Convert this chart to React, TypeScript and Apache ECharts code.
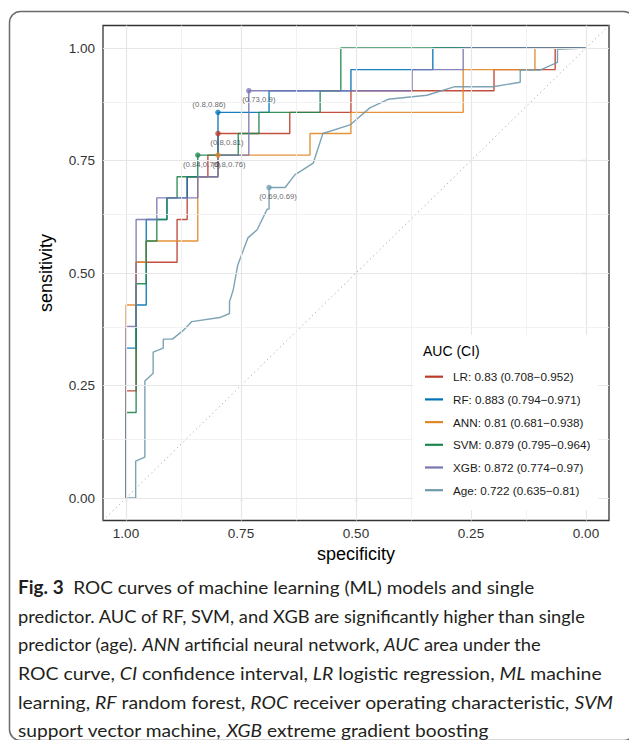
import React, { useEffect, useRef } from "react";
import * as echarts from "echarts";

// ---------- data ----------
const models = ["LR", "RF", "ANN", "SVM", "XGB", "Age"];
const aucValues = ["0.83", "0.883", "0.81", "0.879", "0.872", "0.722"];
const ciLow = ["0.708", "0.794", "0.681", "0.795", "0.774", "0.635"];
const ciHigh = ["0.952", "0.971", "0.938", "0.964", "0.97", "0.81"];
const colors = ["#BC3C29", "#0072B5", "#E18727", "#20854E", "#7876B1", "#6F99AD"];

const lrSpec = [1, 1, 0.978, 0.978, 0.889, 0.889, 0.867, 0.867, 0.822, 0.822, 0.8, 0.8, 0.644, 0.644, 0.511, 0.511, 0.2, 0.2, 0.067, 0.067, 0];
const lrSens = [0, 0.238, 0.238, 0.524, 0.524, 0.619, 0.619, 0.714, 0.714, 0.762, 0.762, 0.81, 0.81, 0.857, 0.857, 0.905, 0.905, 0.952, 0.952, 1, 1];

const rfSpec = [1, 1, 0.978, 0.978, 0.956, 0.956, 0.911, 0.911, 0.867, 0.867, 0.8, 0.8, 0.689, 0.689, 0.511, 0.511, 0.333, 0.333, 0];
const rfSens = [0, 0.333, 0.333, 0.429, 0.429, 0.619, 0.619, 0.667, 0.667, 0.714, 0.714, 0.857, 0.857, 0.905, 0.905, 0.952, 0.952, 1, 1];

const annSpec = [1, 1, 0.978, 0.978, 0.956, 0.956, 0.844, 0.844, 0.8, 0.8, 0.6, 0.6, 0.511, 0.511, 0.267, 0.267, 0.111, 0.111, 0];
const annSens = [0, 0.429, 0.429, 0.524, 0.524, 0.571, 0.571, 0.714, 0.714, 0.762, 0.762, 0.81, 0.81, 0.857, 0.857, 0.952, 0.952, 1, 1];

const svmSpec = [1, 1, 0.978, 0.978, 0.956, 0.956, 0.933, 0.933, 0.911, 0.911, 0.889, 0.889, 0.844, 0.844, 0.756, 0.756, 0.711, 0.711, 0.578, 0.578, 0.533, 0.533, 0];
const svmSens = [0, 0.19, 0.19, 0.476, 0.476, 0.571, 0.571, 0.619, 0.619, 0.667, 0.667, 0.714, 0.714, 0.762, 0.762, 0.81, 0.81, 0.857, 0.857, 0.905, 0.905, 1, 1];

const xgbSpec = [1, 1, 0.978, 0.978, 0.933, 0.933, 0.844, 0.844, 0.8, 0.8, 0.733, 0.733, 0.378, 0.378, 0.267, 0.267, 0];
const xgbSens = [0, 0.381, 0.381, 0.619, 0.619, 0.667, 0.667, 0.714, 0.714, 0.762, 0.762, 0.905, 0.905, 0.952, 0.952, 1, 1];

const ageSpec = [1, 0.979, 0.979, 0.959, 0.959, 0.941, 0.941, 0.919, 0.919, 0.899, 0.875, 0.857, 0.796, 0.775, 0.775, 0.767, 0.757, 0.735, 0.715, 0.693, 0.689, 0.689, 0.654, 0.633, 0.593, 0.572, 0.513, 0.47, 0.43, 0.346, 0.285, 0.202, 0.143, 0.143, 0.1, 0.062, 0.062, 0];
const ageSens = [0, 0, 0.082, 0.091, 0.26, 0.277, 0.324, 0.333, 0.353, 0.353, 0.373, 0.392, 0.401, 0.41, 0.436, 0.462, 0.518, 0.578, 0.596, 0.642, 0.642, 0.69, 0.69, 0.718, 0.744, 0.81, 0.829, 0.867, 0.886, 0.895, 0.914, 0.914, 0.924, 0.951, 0.951, 0.968, 0.997, 1];

const specs = [lrSpec, rfSpec, annSpec, svmSpec, xgbSpec, ageSpec];
const senses = [lrSens, rfSens, annSens, svmSens, xgbSens, ageSens];

// highlighted cut-off points (model index, spec, sens, label)
const pointModel = [4, 1, 0, 3, 2, 5];
const pointSpec = [0.733, 0.8, 0.8, 0.844, 0.8, 0.689];
const pointSens = [0.905, 0.857, 0.81, 0.762, 0.762, 0.69];
const pointText = ["(0.73,0.9)", "(0.8,0.86)", "(0.8,0.81)", "(0.84,0.76)", "(0.8,0.76)", "(0.69,0.69)"];
const pointOffset = [[10, 9], [-9, -8], [9, 9], [4, 9], [11, 9], [9, 9]];

const majorTicks = [0, 0.25, 0.5, 0.75, 1];
const minorTicks = [0.125, 0.375, 0.625, 0.875];

const captionLines = [
  "{b|Fig. 3}{n|  ROC curves of machine learning (ML) models and single}",
  "{n|predictor. AUC of RF, SVM, and XGB are significantly higher than single}",
  "{n|predictor (age). }{i|ANN}{n| artificial neural network, }{i|AUC}{n| area under the}",
  "{n|ROC curve, }{i|CI}{n| confidence interval, }{i|LR}{n| logistic regression, }{i|ML}{n| machine}",
  "{n|learning, }{i|RF}{n| random forest, }{i|ROC}{n| receiver operating characteristic, }{i|SVM}",
  "{n|support vector machine, }{i|XGB}{n| extreme gradient boosting}",
];
const captionStretch = [1.042, 1.005, 1.008, 1.065, 1.063, 1.054];

const FONT = "Liberation Sans, Arial, sans-serif";
const CAP_FONT = "Lato, sans-serif";
const CAP_SIZE = 18.2;

export default function App() {
  const ref = useRef<HTMLDivElement>(null);

  useEffect(() => {
    if (!ref.current) return;
    const chart = echarts.init(ref.current, undefined, { renderer: "svg" });

    const names = models.map((m, i) => `${m}: ${aucValues[i]} (${ciLow[i]}\u2212${ciHigh[i]})`);

    const gridMarks: any[] = [];
    majorTicks.forEach((v) => {
      gridMarks.push({ xAxis: v, lineStyle: { color: "#e6e6e6", width: 1.2, type: "solid" } });
      gridMarks.push({ yAxis: v, lineStyle: { color: "#e6e6e6", width: 1.2, type: "solid" } });
    });
    minorTicks.forEach((v) => {
      gridMarks.push({ xAxis: v, lineStyle: { color: "#efefef", width: 0.8, type: "solid" } });
      gridMarks.push({ yAxis: v, lineStyle: { color: "#efefef", width: 0.8, type: "solid" } });
    });

    const lineSeries = models.map((m, i) => ({
      name: names[i],
      type: "line",
      data: specs[i].map((s, j) => [s, senses[i][j]]),
      showSymbol: false,
      symbol: "none",
      color: colors[i],
      lineStyle: { color: colors[i], width: 1.4, opacity: 0.9 },
      z: 3 + i * 0.01,
      silent: true,
    }));

    const pointData = pointSpec.map((s, i) => ({
      value: [s, pointSens[i]],
      name: pointText[i],
      itemStyle: { color: colors[pointModel[i]], opacity: 0.75 },
      label: {
        show: true,
        position: "inside",
        offset: pointOffset[i],
        formatter: pointText[i],
        fontSize: 7.8,
        color: "#2e2e2e",
        fontFamily: FONT,
      },
    }));

    const capRich = {
      b: { fontWeight: "bold", fontSize: CAP_SIZE, fontFamily: CAP_FONT, fill: "#231f20" },
      n: { fontSize: CAP_SIZE, fontFamily: CAP_FONT, fill: "#231f20" },
      i: { fontStyle: "italic", fontSize: CAP_SIZE, fontFamily: CAP_FONT, fill: "#231f20" },
    };

    const captionGraphics = captionLines.map((t, i) => ({
      type: "text",
      x: 18,
      y: 578 + i * 28.6,
      scaleX: captionStretch[i],
      z: 100,
      style: {
        text: t,
        fill: "#231f20",
        font: `${CAP_SIZE}px ${CAP_FONT}`,
        rich: capRich,
        verticalAlign: "top",
        align: "left",
      },
    }));

    chart.setOption({
      animation: false,
      backgroundColor: "#ffffff",
      grid: {
        left: 103,
        top: 25.5,
        right: 20,
        bottom: 219.5,
        show: true,
        borderColor: "#333333",
        borderWidth: 1.3,
        backgroundColor: "transparent",
      },
      xAxis: {
        type: "value",
        min: -0.05,
        max: 1.05,
        inverse: true,
        name: "specificity",
        nameLocation: "middle",
        nameGap: 22,
        nameTextStyle: { fontSize: 18, color: "#000", fontFamily: FONT },
        axisLine: { show: false },
        axisTick: { show: true, length: 4, customValues: majorTicks, lineStyle: { color: "#333", width: 1.1 } },
        axisLabel: {
          customValues: majorTicks,
          formatter: (v: number) => v.toFixed(2),
          fontSize: 13.5,
          color: "#333",
          fontFamily: FONT,
          margin: 6,
        },
        splitLine: { show: false },
      },
      yAxis: {
        type: "value",
        min: -0.05,
        max: 1.05,
        name: "sensitivity",
        nameLocation: "middle",
        nameGap: 48,
        nameTextStyle: { fontSize: 18, color: "#000", fontFamily: FONT },
        axisLine: { show: false },
        axisTick: { show: true, length: 4, customValues: majorTicks, lineStyle: { color: "#333", width: 1.1 } },
        axisLabel: {
          customValues: majorTicks,
          formatter: (v: number) => v.toFixed(2),
          fontSize: 13.5,
          color: "#333",
          fontFamily: FONT,
          margin: 8,
        },
        splitLine: { show: false },
      },
      legend: {
        data: names,
        orient: "vertical",
        left: 413,
        top: 335,
        padding: [34.35, 8, 12.65, 12],
        backgroundColor: "#ffffff",
        icon: "rect",
        itemWidth: 18,
        itemHeight: 2.2,
        itemGap: 8,
        selectedMode: false,
        z: 20,
        textStyle: {
          fontSize: 11.7,
          lineHeight: 14.7,
          color: "#1a1a1a",
          fontFamily: FONT,
          padding: [0, 0, 0, 5],
        },
      },
      graphic: [
        {
          type: "rect",
          z: -10,
          shape: { x: 9.5, y: 11.5, width: 625, height: 729, r: 11 },
          style: { fill: "none", stroke: "#6b6b6b", lineWidth: 1.5 },
          silent: true,
        },
        {
          type: "text",
          left: 423,
          top: 344,
          z: 100,
          style: { text: "AUC (CI)", fill: "#000", font: `14px ${FONT}` },
        },
        ...captionGraphics,
      ],
      series: [
        {
          type: "line",
          name: "grid",
          data: [[0, 0]],
          showSymbol: false,
          symbol: "none",
          lineStyle: { opacity: 0 },
          z: 1,
          silent: true,
          markLine: {
            silent: true,
            symbol: ["none", "none"],
            label: { show: false },
            animation: false,
            data: gridMarks,
          },
        },
        {
          type: "line",
          name: "diag",
          data: [[1.05, -0.05], [-0.05, 1.05]],
          showSymbol: false,
          symbol: "none",
          lineStyle: { color: "#a8a8a8", width: 1, type: [1.2, 3.3] },
          z: 2,
          silent: true,
        },
        ...lineSeries,
        {
          type: "scatter",
          name: "points",
          data: pointData,
          symbolSize: 5.5,
          z: 5,
          silent: true,
        },
      ],
    });

    return () => chart.dispose();
  }, []);

  return (
    <div style={{ position: "fixed", left: 0, top: 0, width: 629, height: 740, background: "#fff" }}>
      <div ref={ref} style={{ width: 629, height: 740 }} />
    </div>
  );
}
